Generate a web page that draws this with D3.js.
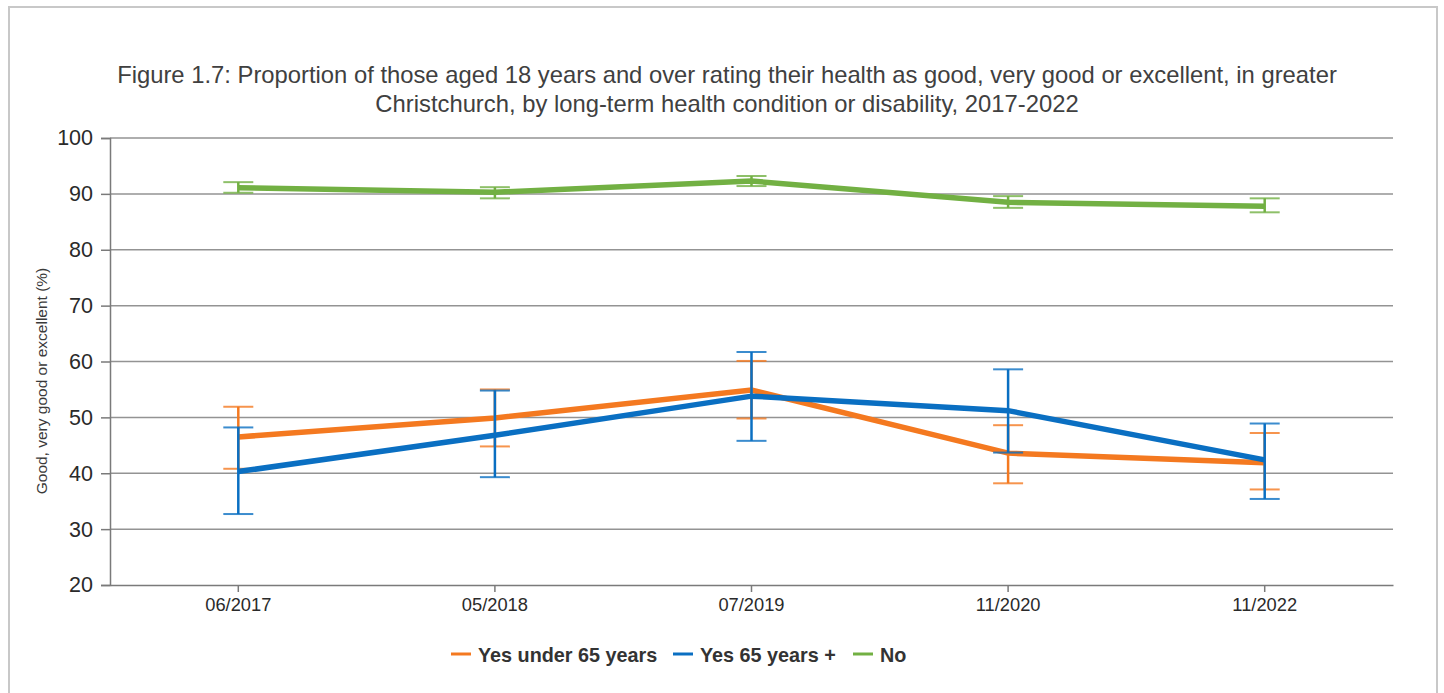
<!DOCTYPE html>
<html>
<head>
<meta charset="utf-8">
<script src="https://cdn.jsdelivr.net/npm/d3@7"></script>
<style>
  html, body { margin: 0; padding: 0; background: #fff; }
  svg { display: block; font-family: "Liberation Sans", Arial, sans-serif; }
</style>
</head>
<body>
<svg id="chart" width="1444" height="693"></svg>
<script>
const categories = ["06/2017", "05/2018", "07/2019", "11/2020", "11/2022"];
const seriesNames = ["Yes under 65 years", "Yes 65 years +", "No"];
const seriesColors = ["#f47920", "#0a6fc2", "#72b043"];

const under65 = [46.5, 49.9, 54.9, 43.6, 41.9];
const under65Low = [40.8, 44.8, 49.8, 38.2, 37.1];
const under65High = [51.9, 55.0, 60.1, 48.6, 47.2];

const over65 = [40.3, 46.8, 53.8, 51.2, 42.4];
const over65Low = [32.7, 39.3, 45.8, 43.7, 35.4];
const over65High = [48.2, 54.8, 61.7, 58.6, 48.9];

const noCond = [91.1, 90.3, 92.3, 88.5, 87.8];
const noCondLow = [90.2, 89.2, 91.4, 87.5, 86.7];
const noCondHigh = [92.1, 91.2, 93.2, 89.6, 89.2];

const yTicks = [20, 30, 40, 50, 60, 70, 80, 90, 100];

const titleLines = [
  "Figure 1.7: Proportion of those aged 18 years and over rating their health as good, very good or excellent, in greater",
  "Christchurch, by long-term health condition or disability, 2017-2022"
];
const yTitle = "Good, very good or excellent (%)";

const series = [
  { name: seriesNames[0], color: seriesColors[0], values: under65, low: under65Low, high: under65High },
  { name: seriesNames[1], color: seriesColors[1], values: over65, low: over65Low, high: over65High },
  { name: seriesNames[2], color: seriesColors[2], values: noCond, low: noCondLow, high: noCondHigh }
];

const svg = d3.select("#chart");
const margin = { left: 110, top: 138, right: 1393, bottom: 585 };

// frame
svg.append("rect")
  .attr("x", 9).attr("y", 7).attr("width", 1428).attr("height", 720)
  .attr("fill", "#fff").attr("stroke", "#c8c8c8").attr("stroke-width", 2);

const x = d3.scaleBand().domain(categories).range([margin.left, margin.right]).padding(0);
const y = d3.scaleLinear().domain([20, 100]).range([margin.bottom, margin.top]);
const cx = d => x(d) + x.bandwidth() / 2;

// title
const title = svg.append("text")
  .attr("text-anchor", "middle")
  .attr("font-size", 23.8)
  .attr("fill", "#404040");
titleLines.forEach((t, i) => {
  title.append("tspan").attr("x", 727).attr("y", 83 + i * 28.5).text(t);
});

// gridlines
svg.append("g")
  .selectAll("line").data(yTicks.slice(1)).join("line")
  .attr("x1", margin.left).attr("x2", margin.right)
  .attr("y1", d => y(d)).attr("y2", d => y(d))
  .attr("stroke", "#939393").attr("stroke-width", 1.5);

// y axis
const yAxis = svg.append("g")
  .attr("transform", `translate(${margin.left},0)`)
  .call(d3.axisLeft(y).tickValues(yTicks).tickSize(9).tickPadding(8).tickFormat(d3.format("d")));
yAxis.select(".domain").attr("stroke", "#7a7a7a").attr("stroke-width", 1.5);
yAxis.selectAll(".tick line").attr("stroke", "#7a7a7a").attr("stroke-width", 1.5);
yAxis.selectAll(".tick text").attr("font-size", 21.5).attr("fill", "#2a2a2a")
  .attr("font-family", "Liberation Sans, Arial, sans-serif");

// x axis
const xAxis = svg.append("g")
  .attr("transform", `translate(0,${margin.bottom})`)
  .call(d3.axisBottom(x).tickSize(7).tickPadding(6).tickSizeOuter(0));
xAxis.select(".domain").attr("stroke", "#7a7a7a").attr("stroke-width", 1.5);
xAxis.selectAll(".tick line").attr("stroke", "#7a7a7a").attr("stroke-width", 1.5);
xAxis.selectAll(".tick text").attr("font-size", 18.3).attr("fill", "#2a2a2a")
  .attr("font-family", "Liberation Sans, Arial, sans-serif");

// y title
svg.append("text")
  .attr("transform", `translate(47,381) rotate(-90)`)
  .attr("text-anchor", "middle")
  .attr("font-size", 15.5)
  .attr("fill", "#3a3a3a")
  .text(yTitle);

// lines
const line = d3.line().x((d, i) => cx(categories[i])).y(d => y(d));
series.forEach(s => {
  const g = svg.append("g");
  g.append("path")
    .datum(s.values)
    .attr("d", line)
    .attr("fill", "none")
    .attr("stroke", s.color)
    .attr("stroke-width", 5.5)
    .attr("stroke-linejoin", "miter");
  // error bars
  const eb = g.selectAll("g.eb").data(categories).join("g").attr("class", "eb");
  eb.append("line")
    .attr("x1", d => cx(d)).attr("x2", d => cx(d))
    .attr("y1", (d, i) => y(s.low[i])).attr("y2", (d, i) => y(s.high[i]))
    .attr("stroke", s.color).attr("stroke-width", 2.5);
  eb.append("line")
    .attr("x1", d => cx(d) - 15).attr("x2", d => cx(d) + 15)
    .attr("y1", (d, i) => y(s.high[i])).attr("y2", (d, i) => y(s.high[i]))
    .attr("stroke", s.color).attr("stroke-width", 2).attr("stroke-opacity", 0.8);
  eb.append("line")
    .attr("x1", d => cx(d) - 15).attr("x2", d => cx(d) + 15)
    .attr("y1", (d, i) => y(s.low[i])).attr("y2", (d, i) => y(s.low[i]))
    .attr("stroke", s.color).attr("stroke-width", 2).attr("stroke-opacity", 0.8);
});

// legend
const legendX = [451, 673, 853];
const legend = svg.append("g");
series.forEach((s, i) => {
  legend.append("line")
    .attr("x1", legendX[i]).attr("x2", legendX[i] + 20)
    .attr("y1", 654).attr("y2", 654)
    .attr("stroke", s.color).attr("stroke-width", 3);
  legend.append("text")
    .attr("x", legendX[i] + 27).attr("y", 661.5)
    .attr("font-size", 19.8).attr("font-weight", "bold")
    .attr("fill", "#333")
    .text(s.name);
});
</script>
</body>
</html>
